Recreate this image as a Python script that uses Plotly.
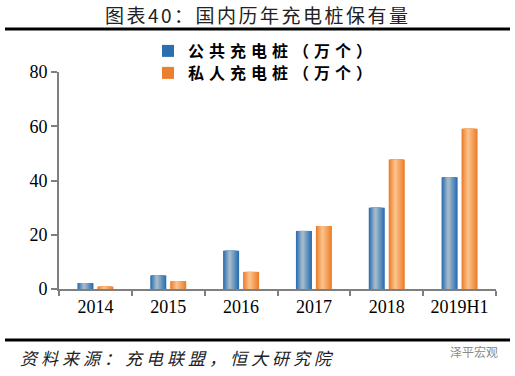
import plotly.graph_objects as go

categories = ["2014", "2015", "2016", "2017", "2018", "2019H1"]
public_piles = [2.2, 5.0, 14.1, 21.4, 30.0, 41.2]
private_piles = [0.9, 2.9, 6.3, 23.2, 47.7, 59.1]
series_names = ["公共充电桩（万个）", "私人充电桩（万个）"]

title_text = "图表40：国内历年充电桩保有量"
source_text = "资料来源：充电联盟，恒大研究院"
watermark_text = "泽平宏观"


def spaced(s, px):
    return '<span style="letter-spacing:%spx">%s</span>' % (px, s)


def hex_to_rgb(h):
    h = h.lstrip("#")
    return tuple(int(h[i:i + 2], 16) for i in (0, 2, 4))


def mix(c1, c2, t):
    a, b = hex_to_rgb(c1), hex_to_rgb(c2)
    return "rgb(%d,%d,%d)" % tuple(round(a[i] + (b[i] - a[i]) * t) for i in range(3))


fig = go.Figure()

bar_w = 0.22
centers = [-0.137, 0.137]
palettes = [("#2C6FB0", "#A2B9CB"), ("#EC7F2E", "#FAC088")]
values = [public_piles, private_piles]
legends = ["legend", "legend2"]
layers = 7

for s in range(2):
    edge, mid = palettes[s]
    for k in range(layers):
        frac = 1 - k / layers
        w = bar_w * frac
        c = centers[s] - 0.02 * (k / layers)
        fig.add_trace(go.Bar(
            x=categories,
            y=values[s],
            width=[w] * len(categories),
            offset=[c - w / 2] * len(categories),
            marker=dict(color=mix(edge, mid, k / (layers - 1)), line=dict(width=0)),
            name=spaced(series_names[s], 5),
            showlegend=(k == 0),
            legend=legends[s],
            hoverinfo="skip" if k else None,
        ))

PH = 217.0
PW = 437.0


def py(px):
    return 1 + (72 - px) / PH


def px_(x):
    return (x - 59) / PW


leg_font = dict(family="Noto Sans CJK SC", size=16, color="black", weight="bold")

fig.update_layout(
    width=515,
    height=376,
    barmode="overlay",
    paper_bgcolor="white",
    plot_bgcolor="white",
    margin=dict(l=59, r=19, t=72, b=87, autoexpand=False),
    font=dict(family="Liberation Serif, Noto Sans CJK SC", color="black"),
    legend=dict(
        x=px_(148), y=py(51), xanchor="left", yanchor="middle",
        font=leg_font, bgcolor="rgba(0,0,0,0)", itemwidth=30,
    ),
    legend2=dict(
        x=px_(148), y=py(73), xanchor="left", yanchor="middle",
        font=leg_font, bgcolor="rgba(0,0,0,0)", itemwidth=30,
    ),
    xaxis=dict(
        type="category",
        showline=True, linecolor="#7F7F7F", linewidth=2,
        ticks="outside", tickson="boundaries", ticklen=5, tickcolor="#7F7F7F", tickwidth=2,
        tickfont=dict(family="Liberation Serif", size=18, color="black"),
        showgrid=False,
        range=[-0.5, 5.5],
    ),
    yaxis=dict(
        range=[0, 80], dtick=20,
        showline=True, linecolor="#7F7F7F", linewidth=2,
        ticks="outside", ticklen=6, tickcolor="#7F7F7F", tickwidth=2,
        tickfont=dict(family="Liberation Serif", size=18, color="black"),
        showgrid=False, zeroline=False,
    ),
    shapes=[
        dict(type="line", xref="paper", yref="paper", x0=px_(5), x1=px_(510),
             y0=py(29), y1=py(29), line=dict(color="black", width=3)),
        dict(type="line", xref="paper", yref="paper", x0=px_(5), x1=px_(510),
             y0=py(340), y1=py(340), line=dict(color="black", width=3)),
    ],
    annotations=[
        dict(text=spaced(title_text, 2.5), xref="paper", yref="paper",
             x=px_(258), y=py(14), xanchor="center", yanchor="middle",
             showarrow=False, font=dict(family="Noto Sans CJK SC", size=19, color="#222")),
        dict(text="<i>" + spaced(source_text, 4) + "</i>", xref="paper", yref="paper",
             x=px_(18), y=py(357), xanchor="left", yanchor="middle",
             showarrow=False, font=dict(family="Noto Sans CJK SC", size=17, color="#222")),
        dict(text=watermark_text, xref="paper", yref="paper",
             x=px_(500), y=py(351), xanchor="right", yanchor="middle",
             showarrow=False, font=dict(family="Noto Sans CJK SC", size=12, color="#8a8a8a")),
    ],
)

fig.write_html("out.html", post_script="document.body.style.margin='0';",
               config={"displayModeBar": False})
